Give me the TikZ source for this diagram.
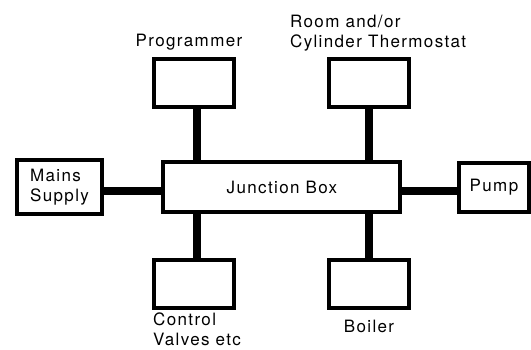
\documentclass[tikz,border=0pt]{standalone}
\usepackage{fontspec}
\setmainfont{TeX Gyre Heros}[LetterSpace=8]
\usetikzlibrary{positioning}

\tikzset{
  unit/.style={draw,line width=4pt,minimum width=80pt,minimum height=48pt,inner sep=0pt},
  wire/.style={line width=8pt},
  caption/.style={inner sep=0pt,align=left}
}

\begin{document}
\begin{tikzpicture}[on grid,font=\fontsize{17}{20}\selectfont]
\useasboundingbox (-282pt,-162pt) rectangle (249pt,187pt);
\node[unit,minimum width=237pt,minimum height=50pt] (jb) {Junction Box};
\node[unit] (prog) [above left=104pt and 88pt of jb] {};
\node[unit] (therm) [above right=104pt and 87pt of jb] {};
\node[unit] (valves) [below left=97pt and 88pt of jb] {};
\node[unit] (boiler) [below right=97pt and 87pt of jb] {};
\node[unit,minimum width=85pt,minimum height=54pt,align=left] (mains) [left=222.5pt of jb] {Mains\\Supply};
\node[unit,minimum width=70pt,minimum height=49pt] (pump) [right=212pt of jb] {Pump};
% captions
\node[caption,anchor=base] (prog-text) at ([xshift=-5pt,yshift=10.5pt]prog.north) {Programmer};
\node[caption,anchor=south west] (therm-text) at ([xshift=-37pt,yshift=5.8pt]therm.north west) {Room and/or\\Cylinder Thermostat};
\node[caption,anchor=north west] (valves-text) at ([xshift=1pt,yshift=-3pt]valves.south west) {Control\\Valves etc};
\node[caption,anchor=base] (boiler-text) at ([yshift=-22.7pt]boiler.south) {Boiler};
% wiring
\draw[wire] ([xshift=3.5pt]prog.south) -- ([xshift=3.5pt]prog.south |- jb.north);
\draw[wire] (therm.south) -- (therm.south |- jb.north);
\draw[wire] ([xshift=3.5pt]valves.north) -- ([xshift=3.5pt]valves.north |- jb.south);
\draw[wire] (boiler.north) -- (boiler.north |- jb.south);
\draw[wire] ([yshift=-4pt]mains.east) -- ([yshift=-4pt]mains.east -| jb.west);
\draw[wire] ([yshift=-4pt]pump.west) -- ([yshift=-4pt]pump.west -| jb.east);
\end{tikzpicture}
\end{document}
